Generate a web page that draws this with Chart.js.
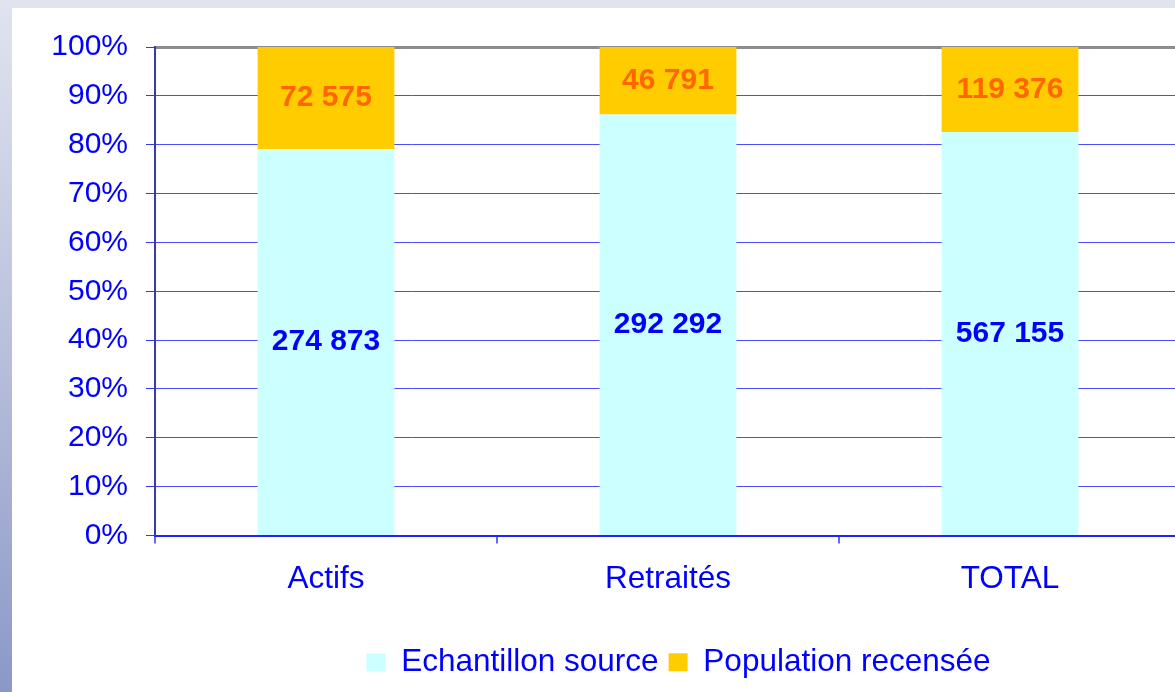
<!DOCTYPE html>
<html>
<head>
<meta charset="utf-8">
<script src="https://cdn.jsdelivr.net/npm/chart.js@4/dist/chart.umd.min.js"></script>
<style>
  html, body { margin: 0; padding: 0; width: 1175px; height: 692px; overflow: hidden; background: #e1e4ef; }
  #strip { position: absolute; left: 0; top: 0; width: 12px; height: 692px;
           background: linear-gradient(to bottom, #e1e4ef 0%, #b9c0dc 50%, #8b98c7 100%); }
  #panel { position: absolute; left: 12px; top: 8px; width: 1163px; height: 684px; background: #ffffff; overflow: hidden; }
  #c { position: absolute; left: 0; top: 0; }
</style>
</head>
<body>
<div id="strip"></div>
<div id="panel"><canvas id="c" width="1336" height="684"></canvas></div>
<script>
const categories = ['Actifs', 'Retraités', 'TOTAL'];
const echantillonSource = [274873, 292292, 567155];
const populationRecensee = [72575, 46791, 119376];
const seriesNames = ['Echantillon source', 'Population recensée'];
const yTickLabels = ['0%','10%','20%','30%','40%','50%','60%','70%','80%','90%','100%'];

const totals = categories.map((_, i) => echantillonSource[i] + populationRecensee[i]);
const pctSource = echantillonSource.map((v, i) => v / totals[i] * 100);
const pctPop = populationRecensee.map((v, i) => v / totals[i] * 100);

const FONT = "'Liberation Sans', Arial, sans-serif";
const fmt = v => String(v).replace(/\B(?=(\d{3})+(?!\d))/g, ' ');

const rawValues = [echantillonSource, populationRecensee];
const labelColors = ['#0000ff', '#ff6600'];

const valueLabels = {
  id: 'valueLabels',
  afterDatasetsDraw(chart) {
    const ctx = chart.ctx;
    ctx.save();
    ctx.font = 'bold 30px ' + FONT;
    ctx.textAlign = 'center';
    ctx.textBaseline = 'middle';
    chart.data.datasets.forEach((ds, di) => {
      const meta = chart.getDatasetMeta(di);
      meta.data.forEach((bar, i) => {
        const p = bar.getCenterPoint();
        ctx.fillStyle = labelColors[di];
        ctx.fillText(fmt(rawValues[di][i]), p.x, p.y);
      });
    });
    ctx.restore();
  }
};

// shift the legend horizontally so that it is centred where the reference has it
const legendShift = {
  id: 'legendShift',
  afterLayout(chart) {
    const lg = chart.legend;
    if (lg) { lg.left += 82; lg.right += 82; }
  }
};

new Chart(document.getElementById('c'), {
  type: 'bar',
  data: {
    labels: categories,
    datasets: [
      { label: seriesNames[0], data: pctSource, backgroundColor: '#ccffff', borderWidth: 0 },
      { label: seriesNames[1], data: pctPop, backgroundColor: '#ffcc00', borderWidth: 0 }
    ]
  },
  options: {
    responsive: false,
    devicePixelRatio: 1,
    animation: false,
    layout: { padding: { top: 39, right: 167, left: 0, bottom: 4 } },
    plugins: {
      tooltip: { enabled: false },
      legend: {
        position: 'bottom',
        labels: {
          font: { family: FONT, size: 31.5 },
          color: '#0000ff',
          boxWidth: 19,
          boxHeight: 18,
          padding: 10
        }
      }
    },
    datasets: { bar: { barPercentage: 0.4, categoryPercentage: 1 } },
    scales: {
      x: {
        stacked: true,
        afterFit(s) { s.height = 101; },
        grid: { offset: true, drawOnChartArea: false, tickLength: 8, color: '#6666ff', lineWidth: 2 },
        border: { color: '#2222ff', width: 2 },
        ticks: { font: { family: FONT, size: 31.5 }, color: '#0000ff', padding: 17 }
      },
      y: {
        stacked: true,
        min: 0, max: 100,
        afterFit(s) { s.width = 143; },
        grid: {
          tickLength: 9,
          color: ctx => (ctx.tick && ctx.tick.value === 100) ? '#8c8c8c' : '#4a4aff',
          lineWidth: ctx => (ctx.tick && ctx.tick.value === 100) ? 3 : 1,
          tickColor: '#3535ee',
          tickWidth: 1
        },
        border: { color: '#3a3aaa', width: 2 },
        ticks: {
          stepSize: 10,
          font: { family: FONT, size: 30 },
          color: '#0000ff',
          padding: 18,
          callback: (v, i) => yTickLabels[Math.round(v / 10)]
        }
      }
    }
  },
  plugins: [valueLabels, legendShift]
});
</script>
</body>
</html>
